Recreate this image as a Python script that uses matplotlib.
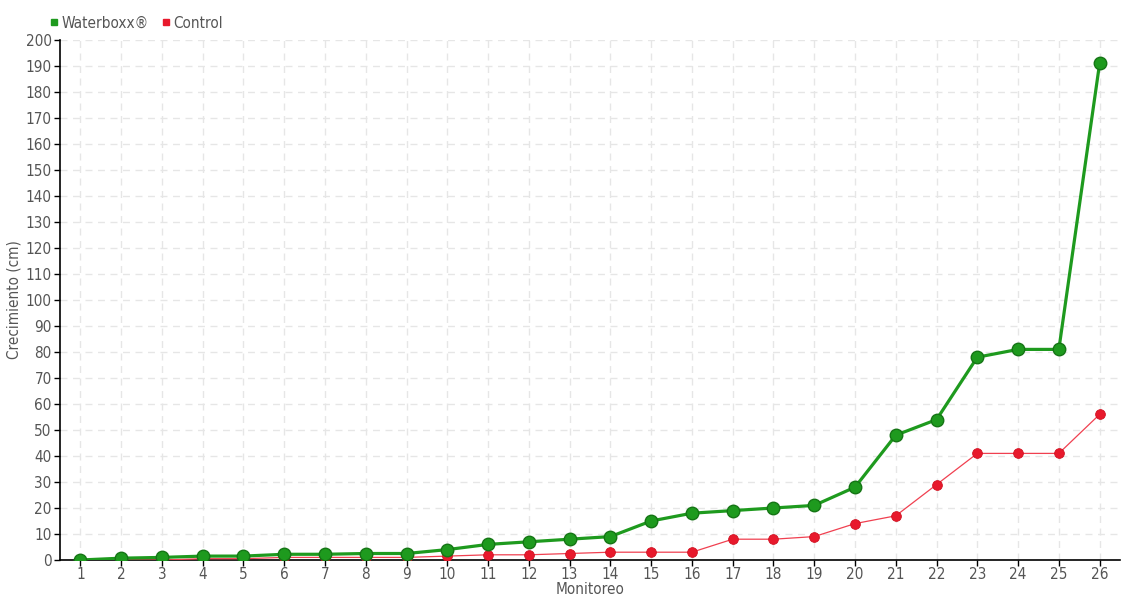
import matplotlib
matplotlib.use("Agg")
import matplotlib.pyplot as plt
from matplotlib.lines import Line2D

categories = list(range(1, 27))
waterboxx = [0, 0.7, 1, 1.5, 1.5, 2.2, 2.2, 2.5, 2.5, 4, 6, 7, 8, 9, 15, 18, 19, 20, 21, 28, 48, 54, 78, 81, 81, 191]
control = [0, 0, 0, 0.5, 0.5, 1, 1, 1, 1, 1.5, 2, 2, 2.5, 3, 3, 3, 8, 8, 9, 14, 17, 29, 41, 41, 41, 56]
y_ticks = list(range(0, 201, 10))

plt.rcParams['font.family'] = ['DejaVu Sans']
plt.rcParams['font.stretch'] = 'condensed'
plt.rcParams['font.weight'] = 'light'
txt = '#555555'

fig = plt.figure(figsize=(11.4, 6), dpi=100)
ax = fig.add_axes([60/1140, 1 - 560/600, 1060/1140, 520/600])

green = '#1e9a1e'
red = '#e8192c'
ax.plot(categories, control, color='#f04050', lw=0.9, marker='o', ms=7,
        mfc=red, mec='#d01020', mew=0.6, zorder=3)
ax.plot(categories, waterboxx, color=green, lw=2.3, marker='o', ms=9,
        mfc=green, mec='#157515', mew=1, zorder=4)

ax.set_xlim(0.5, 26.5)
ax.set_ylim(0, 200)
ax.set_xticks(categories)
ax.set_xticklabels([str(c) for c in categories])
ax.set_yticks(y_ticks)
ax.grid(True, color='#e6e6e6', linestyle=(0, (5, 4)), lw=1)
ax.set_axisbelow(True)
for s in ['top', 'right']:
    ax.spines[s].set_visible(False)
for s in ['left', 'bottom']:
    ax.spines[s].set_color('black')
    ax.spines[s].set_linewidth(1.2)
ax.tick_params(axis='both', colors='black', labelcolor=txt, labelsize=11, length=4, width=1)
ax.tick_params(axis='x', pad=1)
ax.tick_params(axis='y', pad=2)

ax.set_xlabel('Monitoreo', color=txt, fontsize=11, labelpad=0)
ax.set_ylabel('Crecimiento (cm)', color=txt, fontsize=11)
ax.yaxis.set_label_coords(-38/1060, 0.5)

handles = [Line2D([], [], marker='s', ls='none', color=green, ms=5),
           Line2D([], [], marker='s', ls='none', color=red, ms=5)]
leg = fig.legend(handles, ['Waterboxx®', 'Control'], loc='upper left',
                 bbox_to_anchor=(36/1140, 1 - 2/600), ncol=2, frameon=False,
                 handlelength=0.6, handletextpad=0.2, columnspacing=0.8,
                 fontsize=11, labelcolor=txt)

fig.savefig('out.png', dpi=100)
